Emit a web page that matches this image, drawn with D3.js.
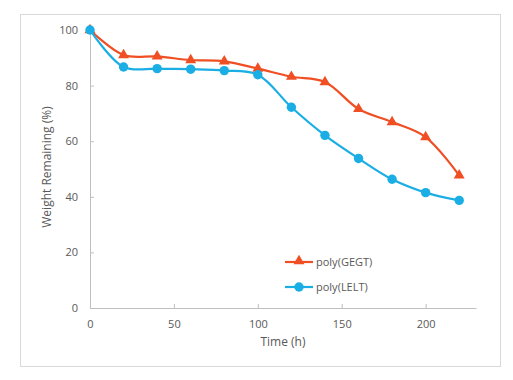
<!DOCTYPE html>
<html><head><meta charset="utf-8">
<script src="https://cdn.jsdelivr.net/npm/d3@7/dist/d3.min.js"></script>
<style>body{margin:0;background:#fff}svg{display:block}text{font-family:"Open Sans","Noto Sans",sans-serif;fill:#595959}</style>
</head><body><svg id="c" width="513" height="380"></svg>
<script>
const times = [0,20,40,60,80,100,120,140,160,180,200,220];
const gegt = [100,91.0,90.5,89.2,88.7,86.1,83.2,81.3,71.6,66.9,61.5,47.7];
const lelt = [100,86.7,86.1,85.9,85.4,83.9,72.2,62.1,53.8,46.3,41.5,38.7];
const seriesNames = ["poly(GEGT)","poly(LELT)"];
const xTicks = [0,50,100,150,200];
const yTicks = [0,20,40,60,80,100];

const svg = d3.select("#c");
svg.append("rect").attr("x",20.5).attr("y",14.5).attr("width",480).attr("height",352)
  .attr("fill","#fff").attr("stroke","#d9d9d9");
const x = d3.scaleLinear().domain([0,230]).range([90,476]);
const y = d3.scaleLinear().domain([0,100]).range([308,30]);

const xa = svg.append("g").attr("transform","translate(0,308)")
  .call(d3.axisBottom(x).tickValues(xTicks).tickSizeInner(-4).tickSizeOuter(0).tickPadding(12));
const ya = svg.append("g").attr("transform","translate(90,0)")
  .call(d3.axisLeft(y).tickValues(yTicks).tickSizeInner(-4).tickSizeOuter(0).tickPadding(12));
[xa,ya].forEach(a=>{
  a.selectAll("path,line").attr("stroke","#bfbfbf");
  a.selectAll("text").attr("font-size",11).style("fill","#595959");
});

svg.append("text").attr("x",283).attr("y",346).attr("text-anchor","middle").attr("font-size",12).text("Time (h)");
svg.append("text").attr("transform","translate(51,167) rotate(-90)").attr("text-anchor","middle").attr("font-size",12).text("Weight Remaining (%)");

const cols = ["#f04e23","#1aaee5"];
const line = d3.line().x((d,i)=>x(times[i])).y(d=>y(d)).curve(d3.curveCatmullRom.alpha(0.5));
const tri = d3.symbol().type(d3.symbolTriangle).size(52);
const data = [gegt,lelt];
[0,1].forEach(k=>{
  const g = svg.append("g");
  g.append("path").attr("d",line(data[k])).attr("fill","none").attr("stroke",cols[k]).attr("stroke-width",2.2);
  data[k].forEach((v,i)=>{
    if(k===0) g.append("path").attr("d",tri).attr("transform",`translate(${x(times[i])},${y(v)})`).attr("fill",cols[k]);
    else g.append("circle").attr("cx",x(times[i])).attr("cy",y(v)).attr("r",4.7).attr("fill",cols[k]);
  });
});

const leg = svg.append("g");
seriesNames.forEach((n,k)=>{
  const ly = 262 + k*25;
  leg.append("line").attr("x1",285).attr("x2",313).attr("y1",ly).attr("y2",ly).attr("stroke",cols[k]).attr("stroke-width",2.2);
  if(k===0) leg.append("path").attr("d",tri).attr("transform",`translate(299,${ly-1})`).attr("fill",cols[k]);
  else leg.append("circle").attr("cx",299).attr("cy",ly).attr("r",4.7).attr("fill",cols[k]);
  leg.append("text").attr("x",316).attr("y",ly+4).attr("font-size",11).text(n);
});
</script></body></html>
